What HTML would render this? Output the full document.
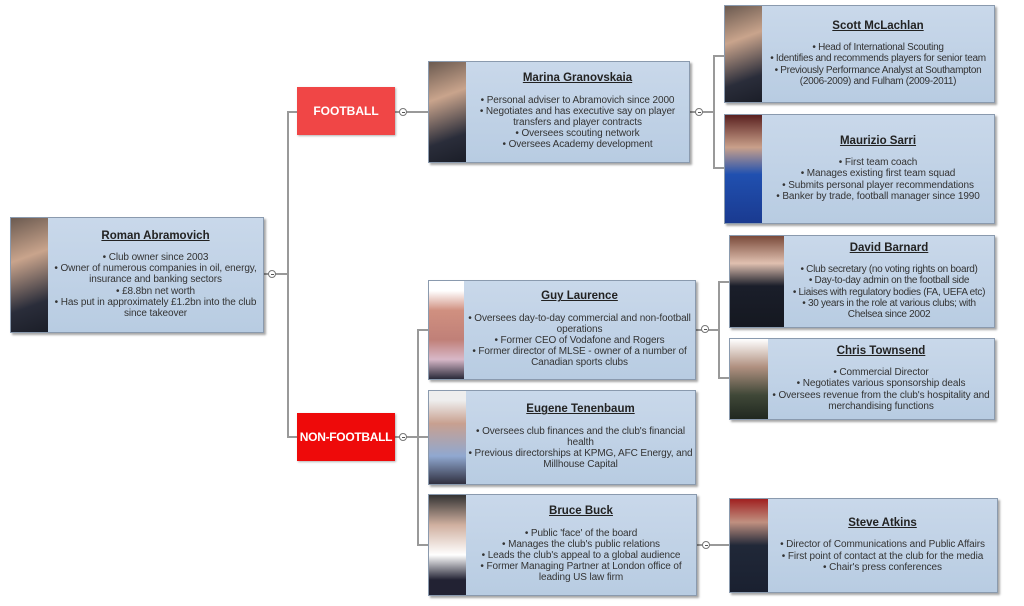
<!DOCTYPE html>
<html><head><meta charset="utf-8"><style>
body{margin:0;width:1024px;height:606px;background:#fff;position:relative;overflow:hidden;font-family:"Liberation Sans",Arial,sans-serif;}
.b{position:absolute;background:linear-gradient(#c9d8ea,#b8cce2);border:1px solid #8a9aae;box-shadow:2px 2px 2px rgba(0,0,0,.35);box-sizing:border-box;display:flex;}
.p{flex:none;height:100%;background:linear-gradient(160deg,#6b5a50,#c9a48c 35%,#2a2d3a 75%,#1b1e28);}
.t{flex:1;display:flex;flex-direction:column;justify-content:center;align-items:center;text-align:center;color:#333;font-size:10px;line-height:11.2px;padding:0 1px;letter-spacing:-0.1px;}
.t h{display:block;font-weight:bold;text-decoration:underline;font-size:11.5px;color:#222;margin-bottom:10px;letter-spacing:0;}
.cat{position:absolute;color:#fff;font-weight:bold;font-size:12px;white-space:nowrap;display:flex;align-items:center;justify-content:center;box-shadow:1px 1px 2px rgba(0,0,0,.3);}
.l{position:absolute;background:#999;}
.c{position:absolute;width:8px;height:8px;border:1px solid #777;border-radius:50%;background:#fff;box-sizing:border-box;}
.c:after{content:"";position:absolute;left:1.5px;right:1.5px;top:2.5px;height:1px;background:#555;}
</style></head><body>
<div class="l" style="left:264px;top:273px;width:24px;height:2px"></div>
<div class="l" style="left:287px;top:111px;width:2px;height:327px"></div>
<div class="l" style="left:287px;top:111px;width:10px;height:2px"></div>
<div class="l" style="left:287px;top:436px;width:10px;height:2px"></div>
<div class="l" style="left:395px;top:111px;width:33px;height:2px"></div>
<div class="l" style="left:395px;top:436px;width:24px;height:2px"></div>
<div class="l" style="left:417px;top:329px;width:2px;height:217px"></div>
<div class="l" style="left:417px;top:329px;width:11px;height:2px"></div>
<div class="l" style="left:417px;top:436px;width:11px;height:2px"></div>
<div class="l" style="left:417px;top:544px;width:11px;height:2px"></div>
<div class="l" style="left:690px;top:111px;width:25px;height:2px"></div>
<div class="l" style="left:713px;top:55px;width:2px;height:114px"></div>
<div class="l" style="left:713px;top:55px;width:11px;height:2px"></div>
<div class="l" style="left:713px;top:167px;width:11px;height:2px"></div>
<div class="l" style="left:696px;top:329px;width:24px;height:2px"></div>
<div class="l" style="left:718px;top:281px;width:2px;height:98px"></div>
<div class="l" style="left:718px;top:281px;width:11px;height:2px"></div>
<div class="l" style="left:718px;top:377px;width:11px;height:2px"></div>
<div class="l" style="left:697px;top:544px;width:32px;height:2px"></div>
<div class="c" style="left:268px;top:270px"></div>
<div class="c" style="left:399px;top:108px"></div>
<div class="c" style="left:399px;top:433px"></div>
<div class="c" style="left:695px;top:108px"></div>
<div class="c" style="left:701px;top:325px"></div>
<div class="c" style="left:702px;top:541px"></div>

<div class="cat" style="left:297px;top:87px;width:98px;height:48px;background:#f04646">FOOTBALL</div>
<div class="cat" style="left:297px;top:413px;width:98px;height:48px;background:#ee0a0a;letter-spacing:-0.3px">NON-FOOTBALL</div>

<div class="b" style="left:10px;top:217px;width:254px;height:116px"><div class="p" style="width:37px"></div><div class="t"><h>Roman Abramovich</h>• Club owner since 2003<br>• Owner of numerous companies in oil, energy, insurance and banking sectors<br>• £8.8bn net worth<br>• Has put in approximately £1.2bn into the club since takeover</div></div>

<div class="b" style="left:428px;top:61px;width:262px;height:102px"><div class="p" style="width:37px"></div><div class="t"><h>Marina Granovskaia</h>• Personal adviser to Abramovich since 2000<br>• Negotiates and has executive say on player transfers and player contracts<br>• Oversees scouting network<br>• Oversees Academy development</div></div>

<div class="b" style="left:724px;top:5px;width:271px;height:98px"><div class="p" style="width:37px"></div><div class="t" style="letter-spacing:-0.3px"><h>Scott McLachlan</h>• Head of International Scouting<br>• Identifies and recommends players for senior team<br>• Previously Performance Analyst at Southampton (2006-2009) and Fulham (2009-2011)</div></div>

<div class="b" style="left:724px;top:114px;width:271px;height:110px"><div class="p" style="width:37px;background:linear-gradient(#5a2020,#c9a08a 30%,#2050b0 55%,#1a3a90)"></div><div class="t"><h>Maurizio Sarri</h>• First team coach<br>• Manages existing first team squad<br>• Submits personal player recommendations<br>• Banker by trade, football manager since 1990</div></div>

<div class="b" style="left:428px;top:280px;width:268px;height:100px"><div class="p" style="width:35px;background:linear-gradient(#fff 10%,#d09080 30%,#c08078 60%,#d8b8c8 80%,#2a2a3a)"></div><div class="t"><h>Guy Laurence</h>• Oversees day-to-day commercial and non-football operations<br>• Former CEO of Vodafone and Rogers<br>• Former director of MLSE - owner of a number of Canadian sports clubs</div></div>

<div class="b" style="left:428px;top:390px;width:268px;height:95px"><div class="p" style="width:37px;background:linear-gradient(#eee 10%,#c8a090 35%,#90a8d0 70%,#303040)"></div><div class="t"><h>Eugene Tenenbaum</h>• Oversees club finances and the club's financial health<br>• Previous directorships at KPMG, AFC Energy, and Millhouse Capital</div></div>

<div class="b" style="left:428px;top:494px;width:269px;height:102px"><div class="p" style="width:37px;background:linear-gradient(#333,#d0b0a0 30%,#fff 60%,#223 85%)"></div><div class="t"><h>Bruce Buck</h>• Public 'face' of the board<br>• Manages the club's public relations<br>• Leads the club's appeal to a global audience<br>• Former Managing Partner at London office of leading US law firm</div></div>

<div class="b" style="left:729px;top:235px;width:266px;height:93px"><div class="p" style="width:54px;background:linear-gradient(#7a4a3a,#e0c0b0 30%,#1a1e2a 55%,#151820)"></div><div class="t" style="letter-spacing:-0.3px"><h>David Barnard</h>• Club secretary (no voting rights on board)<br>• Day-to-day admin on the football side<br>• Liaises with regulatory bodies (FA, UEFA etc)<br>• 30 years in the role at various clubs; with Chelsea since 2002</div></div>

<div class="b" style="left:729px;top:338px;width:266px;height:82px"><div class="p" style="width:38px;background:linear-gradient(#fff,#b09080 35%,#404838 70%,#202820)"></div><div class="t"><h>Chris Townsend</h>• Commercial Director<br>• Negotiates various sponsorship deals<br>• Oversees revenue from the club's hospitality and merchandising functions</div></div>

<div class="b" style="left:729px;top:498px;width:269px;height:95px"><div class="p" style="width:38px;background:linear-gradient(#a02020,#c09080 25%,#202838 50%,#1a2030)"></div><div class="t"><h>Steve Atkins</h>• Director of Communications and Public Affairs<br>• First point of contact at the club for the media<br>• Chair's press conferences</div></div>
</body></html>
